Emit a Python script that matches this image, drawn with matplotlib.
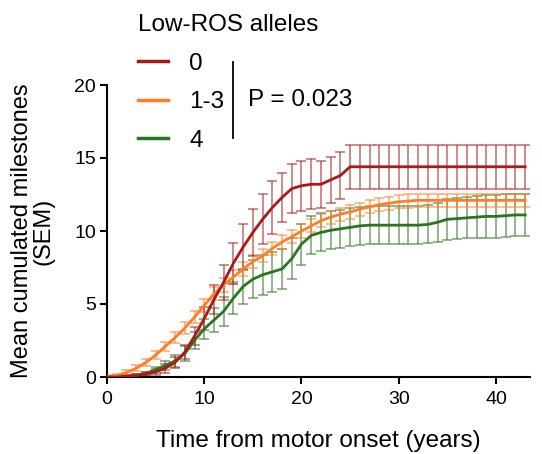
import numpy as np
import matplotlib.pyplot as plt
from matplotlib.lines import Line2D

plt.rcParams['font.family'] = ['Liberation Sans', 'DejaVu Sans']

# years from motor onset
years = list(range(0, 44))

# group "0" low-ROS alleles
mean_0 = [0.0, 0.0, 0.05, 0.1, 0.2, 0.35, 0.6, 1.0, 1.7, 2.8, 4.0, 5.3, 6.5, 7.8,
          8.9, 9.9, 10.8, 11.6, 12.3, 12.9, 13.1, 13.2, 13.2, 13.5, 13.8,
          14.4, 14.4, 14.4, 14.4, 14.4, 14.4, 14.4, 14.4, 14.4, 14.4, 14.4,
          14.4, 14.4, 14.4, 14.4, 14.4, 14.4, 14.4, 14.4]
sem_0 = [0.05, 0.05, 0.1, 0.1, 0.15, 0.2, 0.3, 0.4, 0.5, 0.6, 0.8, 1.0, 1.2, 1.4,
         1.6, 1.6, 1.7, 1.8, 1.7, 1.7, 1.7, 1.7, 1.6, 1.6, 1.6,
         1.5, 1.5, 1.5, 1.5, 1.5, 1.5, 1.5, 1.5, 1.5, 1.5, 1.5,
         1.5, 1.5, 1.5, 1.5, 1.5, 1.5, 1.5, 1.5]

# group "1-3"
mean_13 = [0.05, 0.1, 0.3, 0.6, 1.0, 1.5, 2.1, 2.7, 3.35, 4.1, 4.9, 5.7, 6.3, 6.85,
           7.4, 7.9, 8.3, 8.8, 9.25, 9.6, 10.0, 10.35, 10.7, 10.95, 11.15,
           11.3, 11.5, 11.65, 11.8, 11.9, 12.0, 12.05, 12.1, 12.1, 12.1, 12.1,
           12.1, 12.1, 12.1, 12.1, 12.1, 12.1, 12.1, 12.1]
sem_13 = [0.05, 0.1, 0.15, 0.2, 0.25, 0.3, 0.3, 0.35, 0.4, 0.4, 0.45, 0.45, 0.45, 0.45,
          0.45, 0.45, 0.45, 0.45, 0.45, 0.45, 0.45, 0.45, 0.45, 0.45, 0.45,
          0.45, 0.45, 0.45, 0.45, 0.45, 0.45, 0.45, 0.45, 0.45, 0.45, 0.45,
          0.45, 0.45, 0.45, 0.45, 0.45, 0.45, 0.45, 0.45]

# group "4"
mean_4 = [0.0, 0.0, 0.02, 0.1, 0.25, 0.5, 0.8, 1.1, 1.6, 2.5, 3.3, 3.9, 4.5, 5.4,
          6.2, 6.7, 7.0, 7.2, 7.4, 8.1, 9.1, 9.7, 9.9, 10.05, 10.15,
          10.25, 10.35, 10.4, 10.4, 10.4, 10.4, 10.4, 10.4, 10.45, 10.6, 10.8,
          10.85, 10.9, 10.95, 11.0, 11.0, 11.05, 11.1, 11.1]
sem_4 = [0.05, 0.05, 0.05, 0.1, 0.1, 0.2, 0.3, 0.4, 0.5, 0.6, 0.7, 0.8, 1.0, 1.1,
         1.2, 1.3, 1.35, 1.35, 1.4, 1.4, 1.4, 1.3, 1.3, 1.3, 1.3,
         1.3, 1.3, 1.3, 1.3, 1.3, 1.3, 1.3, 1.3, 1.3, 1.35, 1.4,
         1.4, 1.4, 1.45, 1.45, 1.45, 1.45, 1.45, 1.45]

group_labels = ['0', '1-3', '4']
colors = ['#a81a1a', '#ff7d26', '#2c7420']
p_text = 'P = 0.023'

fig = plt.figure(figsize=(5.42, 4.54), dpi=100)
ax = fig.add_axes([107 / 542, 77 / 454, 423 / 542, 292 / 454])

series = [(mean_4, sem_4, colors[2]), (mean_13, sem_13, colors[1]), (mean_0, sem_0, colors[0])]
for m, s, c in series:
    ax.errorbar(years, m, yerr=s, fmt='none', ecolor=c, elinewidth=1.1,
                capsize=3.4, capthick=1.1, alpha=0.65, zorder=2)
    ax.plot(years, m, color=c, lw=2.0, zorder=3)

ax.set_xlim(0, 43.5)
ax.set_ylim(0, 20)
ax.set_xticks([0, 10, 20, 30, 40])
ax.set_yticks([0, 5, 10, 15, 20])
for sp in ['top', 'right']:
    ax.spines[sp].set_visible(False)
for sp in ['left', 'bottom']:
    ax.spines[sp].set_linewidth(1.5)
ax.tick_params(direction='out', length=5, width=1.5, labelsize=14, pad=3)
ax.tick_params(axis='x', pad=5)
ax.set_xlabel('Time from motor onset (years)', fontsize=17.5, labelpad=16)
ax.set_ylabel('Mean cumulated milestones\n(SEM)', fontsize=17, labelpad=14, linespacing=1.0)

handles = [Line2D([], [], color=c, lw=2.5) for c in colors]
leg = fig.legend(handles, group_labels, title='Low-ROS alleles', loc='upper left',
                 bbox_to_anchor=(138 / 542, 1 - 14 / 454), frameon=False,
                 borderpad=0, borderaxespad=0,
                 fontsize=17.5, title_fontsize=17.5, alignment='left',
                 handlelength=1.25, handletextpad=0.85, labelspacing=0.68)

fig.add_artist(Line2D([233 / 542, 233 / 542], [1 - 62 / 454, 1 - 138 / 454],
                      color='black', lw=1.3, transform=fig.transFigure))
fig.text(248 / 542, 1 - 100 / 454, p_text, fontsize=17.5, va='center', ha='left')

fig.savefig('out.png', dpi=100)
